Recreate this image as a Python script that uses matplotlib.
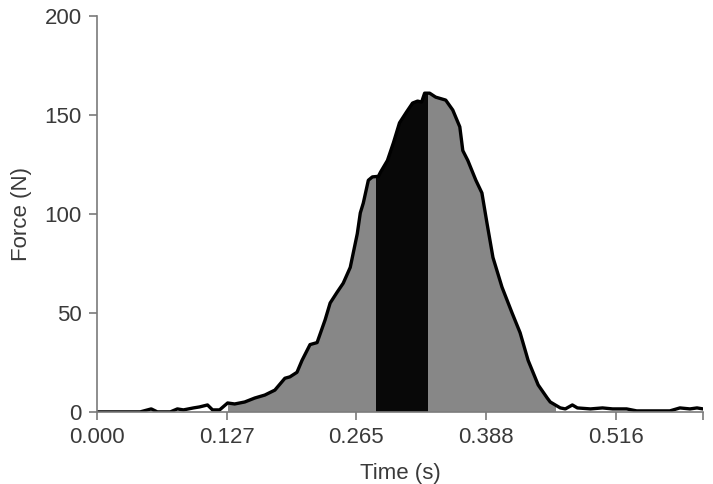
import numpy as np
import matplotlib
matplotlib.use("Agg")
import matplotlib.pyplot as plt

# force trace
time_s = [0.000, 0.043, 0.054, 0.060, 0.073, 0.080, 0.086, 0.096, 0.102, 0.110,
          0.115, 0.122, 0.130, 0.137, 0.147, 0.157, 0.167, 0.177, 0.187, 0.192,
          0.199, 0.204, 0.212, 0.219, 0.227, 0.232, 0.239, 0.245, 0.252, 0.259,
          0.262, 0.265, 0.270, 0.274, 0.280, 0.282, 0.289, 0.295, 0.301, 0.308,
          0.314, 0.319, 0.323, 0.326, 0.331, 0.337, 0.347, 0.354, 0.361, 0.364,
          0.369, 0.377, 0.383, 0.388, 0.394, 0.403, 0.413, 0.421, 0.429, 0.439,
          0.448, 0.451, 0.461, 0.466, 0.473, 0.478, 0.491, 0.503, 0.513, 0.527,
          0.537, 0.570, 0.580, 0.590, 0.597, 0.603]
force_n = [0.0, 0.0, 1.5, 0.0, 0.0, 1.5, 1.0, 2.0, 2.5, 3.5,
           1.0, 1.0, 4.5, 4.0, 5.0, 7.0, 8.5, 11.0, 17.0, 17.7,
           20.0, 26.0, 34.0, 35.0, 46.5, 55.0, 60.5, 65.0, 73.0, 90.0,
           100.5, 105.5, 117.0, 118.7, 119.0, 121.0, 127.0, 136.0, 146.0, 151.5,
           156.0, 157.0, 156.5, 161.0, 161.0, 159.0, 157.5, 152.5, 144.0, 132.0,
           127.0, 117.0, 110.6, 95.5, 78.0, 63.0, 50.0, 40.0, 26.0, 13.6,
           7.0, 5.0, 2.0, 1.5, 3.5, 2.0, 1.5, 2.0, 1.5, 1.5,
           0.5, 0.5, 2.0, 1.5, 2.0, 1.5]

# shaded phases (start, end, colour)
phases = [(0.130, 0.457, "#878787"), (0.278, 0.329, "#080808")]

xtick_pos = [0.0, 0.129, 0.258, 0.387, 0.516, 0.603]
xtick_labels = ["0.000", "0.127", "0.265", "0.388", "0.516", ""]
ytick_pos = [0, 50, 100, 150, 200]

plt.rcParams['font.family'] = ['Liberation Sans', 'DejaVu Sans']

fig = plt.figure(figsize=(7.13, 4.84), dpi=100)
ax = fig.add_axes([0.136, 0.149, 0.850, 0.818])

t = np.array(time_s)
f = np.array(force_n)

area = ax.fill_between(t, f, 0, color="none", lw=0)
clip = area.get_paths()[0]
for a, b, c in phases:
    span = ax.axvspan(a, b, color=c, lw=0, zorder=1)
    span.set_clip_path(clip, ax.transData)

ax.plot(t, f, color="black", lw=2.4, zorder=3, solid_joinstyle="round")

ax.set_xlim(0, 0.603)
ax.set_ylim(0, 200)
ax.set_xticks(xtick_pos)
ax.set_xticklabels(xtick_labels)
ax.set_yticks(ytick_pos)

for s in ["top", "right"]:
    ax.spines[s].set_visible(False)
for s in ["left", "bottom"]:
    ax.spines[s].set_color("#7a7a7a")
    ax.spines[s].set_linewidth(1.2)
    ax.spines[s].set_zorder(4)

ax.tick_params(direction="out", length=6, width=1.2, color="#7a7a7a",
               labelsize=16, labelcolor="#3a3a3a", pad=5)

ax.set_xlabel("Time (s)", fontsize=16, color="#3a3a3a", labelpad=11)
ax.set_ylabel("Force (N)", fontsize=16, color="#3a3a3a", labelpad=9)

fig.savefig("out.png", dpi=100)
